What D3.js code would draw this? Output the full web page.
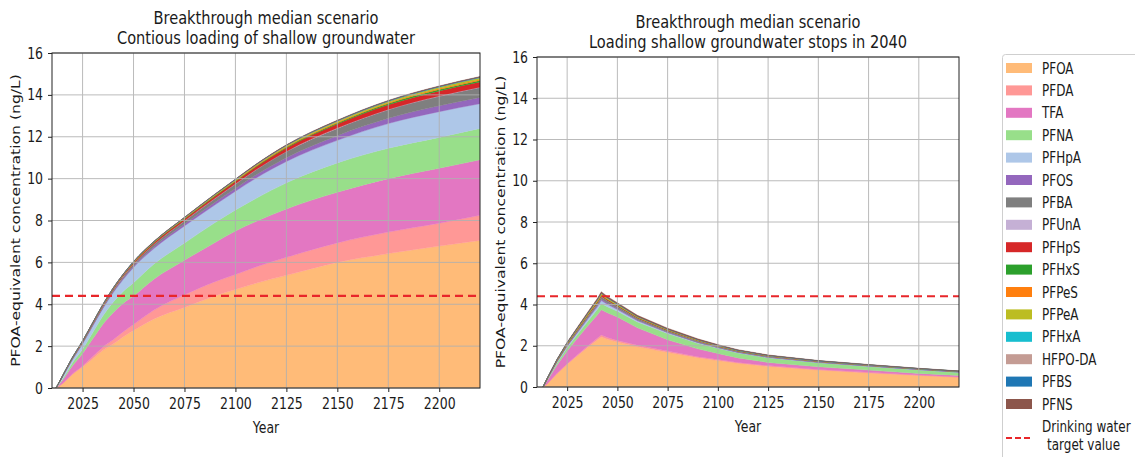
<!DOCTYPE html>
<html><head><meta charset="utf-8">
<script src="https://cdn.jsdelivr.net/npm/d3@7"></script>
<style>
body{margin:0;background:#fff}
text{font-family:"DejaVu Sans",sans-serif;fill:#1a1a1a}
</style>
</head><body>
<svg id="c" width="1135" height="457"></svg>
<script>
// ---------- data ----------
const species = ["PFOA","PFDA","TFA","PFNA","PFHpA","PFOS","PFBA","PFUnA","PFHpS","PFHxS","PFPeS","PFPeA","PFHxA","HFPO-DA","PFBS","PFNS"];
const speciesColors = ["#ffbb78","#ff9896","#e377c2","#98df8a","#aec7e8","#9467bd","#7f7f7f","#c5b0d5","#d62728","#2ca02c","#ff7f0e","#bcbd22","#17becf","#c49c94","#1f77b4","#8c564b"];

const yearTicks = [2025,2050,2075,2100,2125,2150,2175,2200];
const concTicks = [0,2,4,6,8,10,12,14,16];
const targetValue = 4.4;

// Left panel: continuous loading
const yearsLeft = [2012,2015,2020,2025,2030,2035,2040,2045,2050,2060,2075,2090,2100,2110,2125,2150,2175,2200,2220];
const L_PFOA   = [0,0.2,0.65,1.0,1.4,1.8,2.1,2.45,2.75,3.3,3.85,4.4,4.7,5.0,5.38,6.0,6.42,6.78,7.05];
const L_PFDA   = [0,0,0.02,0.05,0.1,0.15,0.2,0.24,0.28,0.42,0.6,0.68,0.72,0.78,0.86,0.93,1.03,1.09,1.2];
const L_TFA    = [0,0.15,0.38,0.6,0.85,1.1,1.3,1.36,1.37,1.48,1.65,1.87,2.08,2.17,2.31,2.42,2.55,2.63,2.65];
const L_PFNA   = [0,0.05,0.15,0.2,0.3,0.4,0.5,0.57,0.63,0.72,0.82,0.95,1.0,1.1,1.25,1.4,1.45,1.47,1.5];
const L_PFHpA  = [0,0.1,0.15,0.26,0.31,0.35,0.45,0.57,0.73,0.74,0.82,0.85,0.9,0.97,1.02,1.08,1.18,1.23,1.18];
const L_PFOS   = [0,0.01,0.02,0.03,0.04,0.04,0.05,0.06,0.06,0.08,0.09,0.12,0.13,0.15,0.18,0.22,0.25,0.28,0.3];
const L_PFBA   = [0,0.02,0.04,0.05,0.06,0.07,0.08,0.09,0.1,0.12,0.15,0.18,0.21,0.24,0.29,0.35,0.41,0.45,0.47];
const L_PFUnA  = [0,0,0,0,0,0,0,0.005,0.005,0.005,0.01,0.01,0.01,0.01,0.01,0.015,0.015,0.02,0.02];
const L_PFHpS  = [0,0.01,0.02,0.025,0.03,0.04,0.045,0.05,0.055,0.065,0.08,0.1,0.11,0.13,0.16,0.19,0.22,0.24,0.25];
const L_PFHxS  = [0,0.005,0.005,0.01,0.01,0.01,0.015,0.015,0.015,0.02,0.02,0.03,0.03,0.035,0.04,0.05,0.06,0.065,0.07];
const L_PFPeS  = [0,0,0.005,0.005,0.005,0.01,0.01,0.01,0.01,0.012,0.015,0.02,0.022,0.025,0.03,0.035,0.04,0.045,0.05];
const L_PFPeA  = [0,0.005,0.01,0.01,0.01,0.015,0.015,0.015,0.02,0.02,0.025,0.03,0.035,0.04,0.045,0.055,0.065,0.075,0.08];
const L_PFHxA  = [0,0,0.002,0.002,0.002,0.003,0.003,0.003,0.004,0.004,0.005,0.005,0.006,0.006,0.007,0.008,0.008,0.009,0.01];
const L_HFPODA = [0,0,0.002,0.002,0.002,0.003,0.003,0.003,0.004,0.004,0.005,0.005,0.006,0.006,0.007,0.008,0.008,0.009,0.01];
const L_PFBS   = [0,0,0.002,0.002,0.002,0.003,0.003,0.003,0.004,0.004,0.005,0.005,0.006,0.006,0.007,0.008,0.008,0.009,0.01];
const L_PFNS   = [0,0.002,0.003,0.004,0.005,0.006,0.007,0.008,0.009,0.01,0.012,0.014,0.015,0.016,0.018,0.02,0.022,0.024,0.025];

// Right panel: loading stops in 2040
const yearsRight = [2013,2015,2020,2025,2030,2035,2040,2042,2045,2050,2060,2075,2090,2100,2110,2125,2150,2175,2200,2220];
const R_PFOA   = [0,0.15,0.65,1.1,1.5,1.9,2.28,2.43,2.32,2.18,1.95,1.68,1.42,1.28,1.15,1.0,0.82,0.68,0.56,0.47];
const R_PFDA   = [0,0,0.02,0.03,0.05,0.06,0.08,0.09,0.08,0.08,0.07,0.06,0.05,0.05,0.04,0.04,0.03,0.03,0.02,0.02];
const R_TFA    = [0,0.15,0.4,0.62,0.8,0.97,1.13,1.23,1.2,1.14,0.85,0.55,0.38,0.3,0.22,0.15,0.13,0.11,0.08,0.07];
const R_PFNA   = [0,0.03,0.1,0.15,0.18,0.22,0.27,0.3,0.29,0.27,0.28,0.3,0.27,0.25,0.24,0.23,0.2,0.18,0.17,0.15];
const R_PFHpA  = [0,0.02,0.05,0.07,0.09,0.11,0.13,0.14,0.12,0.09,0.06,0.04,0.03,0.02,0.02,0.015,0.01,0.01,0.01,0.01];
const R_PFOS   = [0,0.01,0.02,0.03,0.04,0.05,0.06,0.07,0.06,0.05,0.04,0.03,0.025,0.02,0.02,0.015,0.012,0.01,0.008,0.007];
const R_PFBA   = [0,0.02,0.04,0.06,0.08,0.1,0.12,0.13,0.12,0.1,0.08,0.07,0.06,0.05,0.045,0.04,0.035,0.03,0.025,0.02];
const R_PFUnA  = [0,0,0.002,0.003,0.004,0.004,0.005,0.005,0.005,0.004,0.004,0.003,0.003,0.002,0.002,0.002,0.002,0.001,0.001,0.001];
const R_PFHpS  = [0,0.005,0.01,0.015,0.02,0.025,0.03,0.03,0.03,0.025,0.02,0.015,0.012,0.01,0.01,0.008,0.006,0.005,0.004,0.004];
const R_PFHxS  = [0,0.005,0.01,0.01,0.015,0.02,0.02,0.02,0.02,0.02,0.015,0.012,0.01,0.01,0.008,0.008,0.006,0.005,0.004,0.004];
const R_PFPeS  = [0,0.005,0.01,0.015,0.02,0.025,0.03,0.03,0.025,0.02,0.015,0.012,0.01,0.008,0.007,0.006,0.005,0.004,0.003,0.003];
const R_PFPeA  = [0,0.01,0.02,0.03,0.04,0.05,0.06,0.07,0.05,0.04,0.03,0.025,0.02,0.015,0.012,0.01,0.008,0.006,0.005,0.004];
const R_PFHxA  = [0,0,0.002,0.003,0.003,0.004,0.005,0.005,0.004,0.004,0.003,0.003,0.002,0.002,0.002,0.002,0.001,0.001,0.001,0.001];
const R_HFPODA = [0,0,0.002,0.003,0.003,0.004,0.005,0.005,0.004,0.004,0.003,0.003,0.002,0.002,0.002,0.002,0.001,0.001,0.001,0.001];
const R_PFBS   = [0,0,0.002,0.003,0.003,0.004,0.005,0.005,0.004,0.004,0.003,0.003,0.002,0.002,0.002,0.002,0.001,0.001,0.001,0.001];
const R_PFNS   = [0,0.01,0.02,0.03,0.04,0.05,0.06,0.06,0.06,0.055,0.05,0.045,0.04,0.035,0.03,0.025,0.02,0.017,0.015,0.012];

const leftSeries  = [L_PFOA,L_PFDA,L_TFA,L_PFNA,L_PFHpA,L_PFOS,L_PFBA,L_PFUnA,L_PFHpS,L_PFHxS,L_PFPeS,L_PFPeA,L_PFHxA,L_HFPODA,L_PFBS,L_PFNS];
const rightSeries = [R_PFOA,R_PFDA,R_TFA,R_PFNA,R_PFHpA,R_PFOS,R_PFBA,R_PFUnA,R_PFHpS,R_PFHxS,R_PFPeS,R_PFPeA,R_PFHxA,R_HFPODA,R_PFBS,R_PFNS];

const titleLine1 = "Breakthrough median scenario";
const leftTitle2 = "Contious loading of shallow groundwater";
const rightTitle2 = "Loading shallow groundwater stops in 2040";
const yLabel = "PFOA-equivalent concentration (ng/L)";
const xLabel = "Year";
const targetLabel = ["Drinking water","target value"];

// ---------- drawing ----------
const svg = d3.select("#c");
const tickFont = 12.5;
const SY = 1.25; // vertical stretch of the reference glyphs

function stretchedText(parent, x, y, str, size, anchor, rotate, sy) {
  return parent.append("text")
    .attr("transform", `translate(${x},${y}) scale(1,${sy || SY})` + (rotate ? " rotate(-90)" : ""))
    .attr("text-anchor", anchor).attr("font-size", size).text(str);
}

function panel(id, years, series, box, title2, curve) {
  const x = d3.scaleLinear().domain([2010, 2220]).range([box.x0, box.x1]);
  const y = d3.scaleLinear().domain([0, 16]).range([box.y1, box.y0]);
  const rows = years.map((yr, i) => {
    const r = {year: yr};
    species.forEach((s, k) => r[s] = series[k][i]);
    return r;
  });
  const stacked = d3.stack().keys(species)(rows);
  const g = svg.append("g");
  g.append("clipPath").attr("id", "clip" + id).append("rect")
    .attr("x", box.x0).attr("y", box.y0).attr("width", box.x1 - box.x0).attr("height", box.y1 - box.y0);
  const area = d3.area().curve(curve)
    .x(d => x(d.data.year)).y0(d => y(d[0])).y1(d => y(d[1]));
  const ag = g.append("g").attr("clip-path", `url(#clip${id})`);
  ag.selectAll("path").data(stacked).join("path")
    .attr("d", area)
    .attr("fill", (d, i) => speciesColors[i])
    .attr("stroke", (d, i) => speciesColors[i])
    .attr("stroke-width", 0.4);

  // grid on top
  const grid = g.append("g").attr("stroke", "#b0b0b0").attr("stroke-width", 1).attr("opacity", 0.85);
  grid.selectAll("line.v").data(yearTicks).join("line")
    .attr("x1", d => x(d)).attr("x2", d => x(d)).attr("y1", box.y0).attr("y2", box.y1);
  grid.selectAll("line.h").data(concTicks).join("line")
    .attr("y1", d => y(d)).attr("y2", d => y(d)).attr("x1", box.x0).attr("x2", box.x1);

  // target line
  g.append("line").attr("x1", box.x0).attr("x2", box.x1)
    .attr("y1", y(targetValue)).attr("y2", y(targetValue))
    .attr("stroke", "#e8262a").attr("stroke-width", 2.2).attr("stroke-dasharray", "8,5");

  // axes
  const xa = g.append("g").attr("transform", `translate(0,${box.y1})`)
    .call(d3.axisBottom(x).tickValues(yearTicks).tickFormat(d3.format("d")).tickSizeOuter(0).tickSize(4).tickPadding(4));
  const ya = g.append("g").attr("transform", `translate(${box.x0},0)`)
    .call(d3.axisLeft(y).tickValues(concTicks).tickSizeOuter(0).tickSize(4).tickPadding(5));
  [xa, ya].forEach(a => {
    a.select(".domain").remove();
    a.selectAll("text").attr("font-size", tickFont).attr("font-family", "DejaVu Sans")
      .attr("fill", "#1a1a1a").attr("transform", `scale(1,${SY})`);
    a.selectAll("line").attr("stroke", "#222");
  });
  g.append("rect").attr("x", box.x0).attr("y", box.y0).attr("width", box.x1 - box.x0).attr("height", box.y1 - box.y0)
    .attr("fill", "none").attr("stroke", "#222").attr("stroke-width", 1);

  const cx = (box.x0 + box.x1) / 2;
  stretchedText(g, cx, box.y0 - 29.5, titleLine1, 14.6, "middle", false, 1.2);
  stretchedText(g, cx, box.y0 - 9.5, title2, 14.6, "middle", false, 1.2);
  stretchedText(g, cx, box.y1 + 44.5, xLabel, 12.5, "middle");
  stretchedText(g, box.ylab, (box.y0 + box.y1) / 2, yLabel, 12.5, "middle", true);
}

panel("L", yearsLeft, leftSeries, {x0: 52, x1: 480, y0: 53, y1: 388, ylab: 20}, leftTitle2, d3.curveMonotoneX);
panel("R", yearsRight, rightSeries, {x0: 537, x1: 959, y0: 57, y1: 387, ylab: 505}, rightTitle2, d3.curveLinear);

// legend
const lg = svg.append("g");
lg.append("rect").attr("x", 1002.5).attr("y", 54.5).attr("width", 150).attr("height", 410)
  .attr("rx", 3).attr("fill", "#fff").attr("stroke", "#cfcfcf");
const rowY = d3.scaleLinear().domain([0, 1]).range([68, 90.4]);
species.forEach((s, i) => {
  const yy = rowY(i);
  lg.append("rect").attr("x", 1006).attr("y", yy - 5).attr("width", 26).attr("height", 10).attr("fill", speciesColors[i]);
  stretchedText(lg, 1042, yy + 5.5, s, 12, "start");
});
const ty = 438;
lg.append("line").attr("x1", 1006).attr("x2", 1032).attr("y1", ty).attr("y2", ty)
  .attr("stroke", "#e8262a").attr("stroke-width", 2).attr("stroke-dasharray", "6,3");
stretchedText(lg, 1042, 432, targetLabel[0], 12, "start");
stretchedText(lg, 1047, 450, targetLabel[1], 12, "start");
</script>
</body></html>
